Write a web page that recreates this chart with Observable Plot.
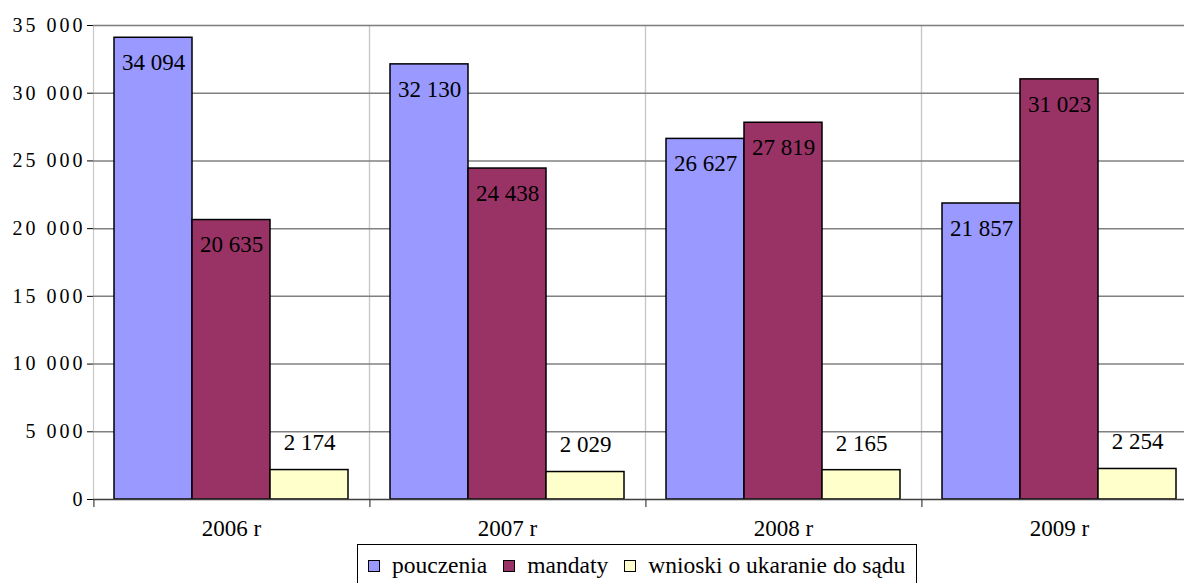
<!DOCTYPE html>
<html>
<head>
<meta charset="utf-8">
<script src="https://cdn.jsdelivr.net/npm/d3@7"></script>
<script src="https://cdn.jsdelivr.net/npm/@observablehq/plot@0.6"></script>
<style>
  html, body { margin: 0; padding: 0; background: #fff; overflow: hidden; }
  #chart { position: relative; width: 1184px; height: 583px; overflow: hidden; }
  #chart svg { display: block; max-width: none !important; font-family: "Liberation Serif" !important; }
  #chart svg text { font-family: "Liberation Serif" !important; }
  g[aria-label^="y-axis"] text { letter-spacing: 3px; font-size: 20px; }
  g[aria-label^="fx-axis"] text { font-size: 23px; }
  #legend {
    position: absolute; left: 357px; top: 544px; box-sizing: border-box; width: 560px; height: 50px;
    border: 1.5px solid #000; background: #fff;
    font-family: "Liberation Serif"; font-size: 23.5px;
    display: flex; align-items: flex-start; padding: 7px 10px 0 10px; white-space: nowrap;
  }
  #legend .item { display: flex; align-items: center; margin-right: 16px; }
  #legend .item:last-child { margin-right: 0; }
  #legend .sw { width: 10px; height: 10px; border: 1.5px solid #000; margin-right: 12px; }
</style>
</head>
<body>
<div id="chart"></div>
<script>
const years = ["2006 r", "2007 r", "2008 r", "2009 r"];
const series = ["pouczenia", "mandaty", "wnioski o ukaranie do sądu"];
const pouczenia = [34094, 32130, 26627, 21857];
const mandaty = [20635, 24438, 27819, 31023];
const wnioski = [2174, 2029, 2165, 2254];
const colors = ["#9999FF", "#993366", "#FFFFCC"];
const yTicks = [0, 5000, 10000, 15000, 20000, 25000, 30000, 35000];

const valuesBySeries = [pouczenia, mandaty, wnioski];
const rows = [];
years.forEach((year, i) => {
  series.forEach((s, j) => rows.push({year, series: s, value: valuesBySeries[j][i]}));
});

const fmt = v => d3.format(",")(v).replace(/,/g, " ");

const W = 1197, ML = 93, MR = 0;
const padOuter = 0.26;
const facetW = (W - ML - MR) / years.length;
const step = facetW / (series.length + 2 * padOuter);

const chart = Plot.plot({
  width: W,
  height: 544,
  marginLeft: ML,
  marginRight: MR,
  marginTop: 25,
  marginBottom: 45,
  style: {fontFamily: "Liberation Serif", fontSize: "20px", color: "#000", background: "#fff", maxWidth: "none"},
  fx: {domain: years, padding: 0, label: null, axis: "bottom", tickSize: 0, tickPadding: 20},
  x: {domain: series, axis: null, paddingInner: 0, paddingOuter: padOuter},
  y: {domain: [0, 35000], ticks: yTicks, tickFormat: fmt, label: null, tickSize: 6, tickPadding: 2, line: true},
  color: {domain: series, range: colors},
  marks: [
    Plot.frame({stroke: "#c8c8c8", strokeWidth: 1.2}),
    Plot.ruleY(yTicks.filter(d => d > 0), {stroke: "#808080", strokeWidth: 1.5}),
    Plot.barY(rows, {fx: "year", x: "series", y: "value", fill: "series", stroke: "#000", strokeWidth: 1.5}),
    Plot.ruleY([0], {stroke: "#404040", strokeWidth: 1.5}),
    Plot.ruleX([series[0]], {x: d => d, y1: 0, y2: 0, insetBottom: -8, dx: -step * (0.5 + padOuter), stroke: "#404040", strokeWidth: 1.2}),
    Plot.text(rows, {fx: "year", x: "series", y: "value", text: d => d.value >= 5000 ? fmt(d.value) : null, dy: 25, fontSize: 23, fill: "#000"}),
    Plot.text(rows, {fx: "year", x: "series", y: "value", text: d => d.value < 5000 ? fmt(d.value) : null, dy: -27, fontSize: 23, fill: "#000"})
  ]
});

const host = document.getElementById("chart");
host.appendChild(chart);

const legend = document.createElement("div");
legend.id = "legend";
series.forEach((s, j) => {
  const item = document.createElement("div");
  item.className = "item";
  const sw = document.createElement("span");
  sw.className = "sw";
  sw.style.background = colors[j];
  const t = document.createElement("span");
  t.textContent = s;
  item.appendChild(sw);
  item.appendChild(t);
  legend.appendChild(item);
});
host.appendChild(legend);
</script>
</body>
</html>
